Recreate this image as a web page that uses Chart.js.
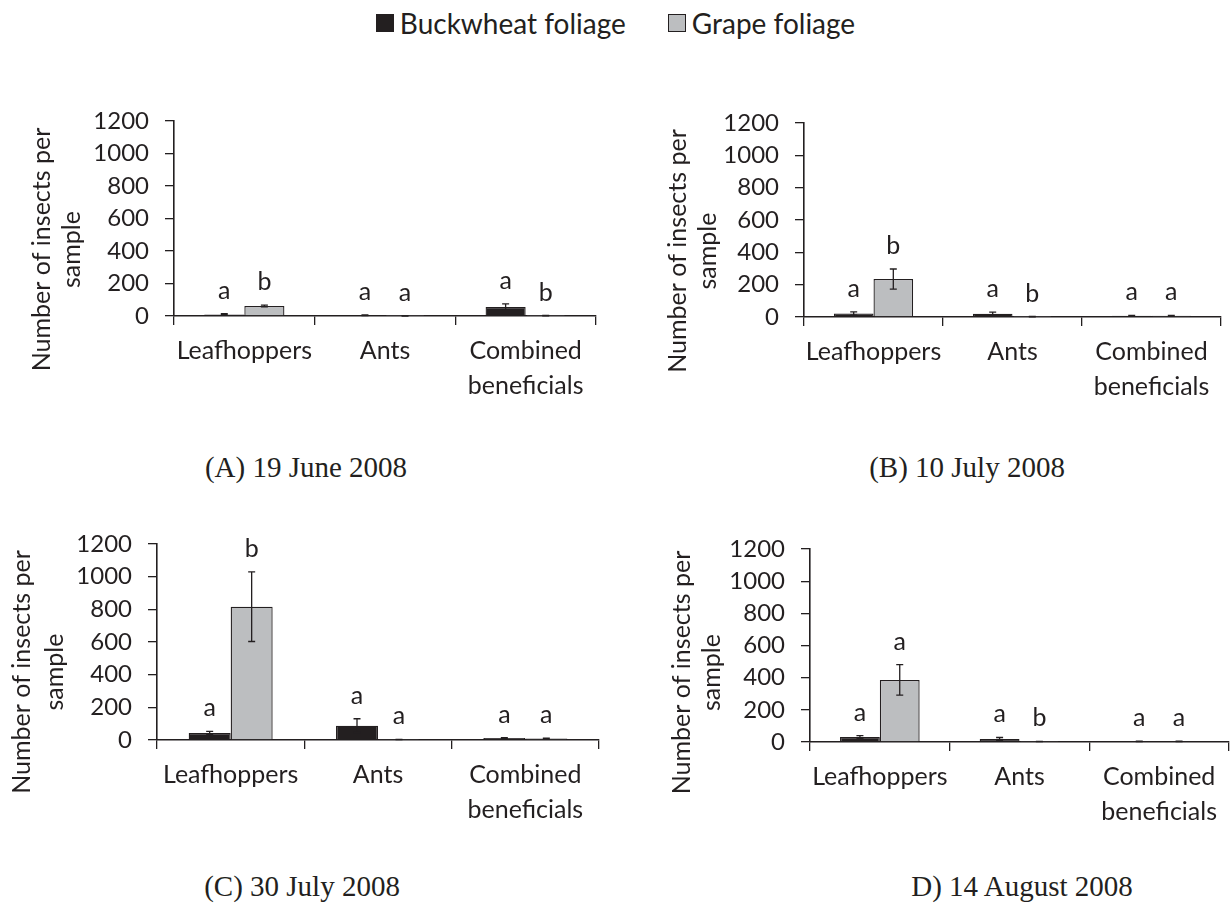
<!DOCTYPE html>
<html>
<head>
<meta charset="utf-8">
<script src="https://cdn.jsdelivr.net/npm/chart.js@4.4.0/dist/chart.umd.min.js"></script>
<style>
  body { margin: 0; background: #fff; width: 1231px; height: 909px; position: relative; overflow: hidden; font-family: Lato, sans-serif; color: #231f20; }
  canvas { position: absolute; }
  .legend { position: absolute; left: 0; top: 0; width: 1231px; height: 46px; display: flex; justify-content: center; align-items: center; font-size: 28px; }
  .legend span.item { display: flex; align-items: center; margin: 0 21px; }
  .sw { display: inline-block; width: 16px; height: 16px; border: 1px solid #231f20; margin-right: 6px; }
  .cap { position: absolute; font-family: "Liberation Serif", serif; font-size: 29px; line-height: 34px; transform: translateX(-50%); white-space: nowrap; }
</style>
</head>
<body>
<div class="legend" id="legend"></div>
<canvas id="chartA"></canvas>
<canvas id="chartB"></canvas>
<canvas id="chartC"></canvas>
<canvas id="chartD"></canvas>
<script>
// categories and series
const categories = ['Leafhoppers', 'Ants', ['Combined', 'beneficials']];
const seriesNames = ['Buckwheat foliage', 'Grape foliage'];
const seriesColors = ['#231f20', '#bcbec0'];
const yTitleLines = ['Number of insects per', 'sample'];
const yMax = 1200;
const yStep = 200;

// (A) 19 June 2008
const buckA = [10, 5, 55];
const buckErrA = [4, 2, 20];
const grapeA = [62, 1, 2];
const grapeErrA = [5, 1, 1];
const lettersBuckA = ['a', 'a', 'a'];
const lettersGrapeA = ['b', 'a', 'b'];

// (B) 10 July 2008
const buckB = [22, 20, 7];
const buckErrB = [10, 10, 3];
const grapeB = [235, 2, 7];
const grapeErrB = [62, 1, 3];
const lettersBuckB = ['a', 'a', 'a'];
const lettersGrapeB = ['b', 'b', 'a'];

// (C) 30 July 2008
const buckC = [43, 88, 12];
const buckErrC = [10, 42, 3];
const grapeC = [816, 3, 9];
const grapeErrC = [213, 1, 2];
const lettersBuckC = ['a', 'a', 'a'];
const lettersGrapeC = ['b', 'a', 'a'];

// D) 14 August 2008
const buckD = [31, 18, 4];
const buckErrD = [9, 10, 2];
const grapeD = [386, 3, 4];
const grapeErrD = [95, 1, 2];
const lettersBuckD = ['a', 'a', 'a'];
const lettersGrapeD = ['a', 'b', 'a'];

const ink = '#231f20';

// legend
const legend = document.getElementById('legend');
seriesNames.forEach((name, i) => {
  legend.insertAdjacentHTML('beforeend',
    '<span class="item"><span class="sw" style="background:' + seriesColors[i] + '"></span>' + name + '</span>');
});

// error bars + significance letters
const barNotes = {
  id: 'barNotes',
  afterDatasetsDraw(chart) {
    const ctx = chart.ctx, y = chart.scales.y;
    chart.data.datasets.forEach((ds, i) => {
      chart.getDatasetMeta(i).data.forEach((bar, j) => {
        const v = ds.data[j], e = ds.errors[j];
        const top = y.getPixelForValue(v + e);
        const bot = y.getPixelForValue(Math.max(0, v - e));
        ctx.save();
        ctx.strokeStyle = ink;
        ctx.lineWidth = 1.3;
        ctx.beginPath();
        ctx.moveTo(bar.x, top); ctx.lineTo(bar.x, bot);
        ctx.moveTo(bar.x - 3.5, top); ctx.lineTo(bar.x + 3.5, top);
        ctx.moveTo(bar.x - 3.5, bot); ctx.lineTo(bar.x + 3.5, bot);
        ctx.stroke();
        ctx.fillStyle = ink;
        ctx.font = '25px Lato';
        ctx.textAlign = 'center';
        ctx.textBaseline = 'alphabetic';
        ctx.fillText(ds.letters[j], bar.x, top - 15);
        ctx.restore();
      });
    });
  }
};

// two-line rotated y title
const sideTitle = {
  id: 'sideTitle',
  afterDraw(chart, args, opts) {
    const a = chart.chartArea, ctx = chart.ctx;
    const cy = (a.top + a.bottom) / 2 + opts.dy;
    ctx.save();
    ctx.fillStyle = ink;
    ctx.font = '25px Lato';
    ctx.textAlign = 'center';
    ctx.textBaseline = 'middle';
    yTitleLines.forEach((t, k) => {
      ctx.save();
      ctx.translate(opts.xs[k], cy);
      ctx.rotate(-Math.PI / 2);
      ctx.fillText(t, 0, 0);
      ctx.restore();
    });
    ctx.restore();
  }
};

function makePanel(p) {
  const cv = document.getElementById(p.id);
  cv.width = p.w; cv.height = p.h;
  cv.style.left = p.left + 'px'; cv.style.top = p.top + 'px';
  const plotL = p.plot[0] - p.left, plotT = p.plot[1] - p.top;
  const plotR = p.plot[2] - p.left, plotB = p.plot[3] - p.top;

  new Chart(cv.getContext('2d'), {
    type: 'bar',
    data: {
      labels: categories,
      datasets: [
        { label: seriesNames[0], data: p.buck, errors: p.buckErr, letters: p.lBuck,
          backgroundColor: seriesColors[0], borderColor: ink, borderWidth: 1.3 },
        { label: seriesNames[1], data: p.grape, errors: p.grapeErr, letters: p.lGrape,
          backgroundColor: seriesColors[1], borderColor: ink, borderWidth: 1.3 }
      ]
    },
    options: {
      responsive: false,
      animation: false,
      devicePixelRatio: 1,
      layout: { padding: { top: plotT, right: p.w - plotR, bottom: 0, left: 0 } },
      datasets: { bar: { categoryPercentage: 0.57, barPercentage: 1 } },
      plugins: {
        legend: { display: false },
        tooltip: { enabled: false },
        sideTitle: { xs: p.titleX, dy: p.titleDy }
      },
      scales: {
        x: {
          afterFit: s => { s.height = p.h - plotB; s.paddingLeft = 0; s.paddingRight = 0; },
          grid: { offset: true, drawOnChartArea: false, drawTicks: true, tickLength: 9, color: ink, lineWidth: 1.3 },
          border: { color: ink, width: 1.6 },
          ticks: { color: ink, padding: 8, font: { family: 'Lato', size: 25, lineHeight: 1.4 }, maxRotation: 0, autoSkip: false }
        },
        y: {
          min: 0, max: yMax,
          afterFit: s => { s.width = plotL; s.paddingTop = 0; s.paddingBottom = 0; },
          grid: { drawOnChartArea: false, drawTicks: true, tickLength: 9, color: ink, lineWidth: 1.3 },
          border: { color: ink, width: 1.6 },
          ticks: { stepSize: yStep, autoSkip: false, color: ink, padding: 16, font: { family: 'Lato', size: 24 },
                   callback: v => String(v) }
        }
      }
    },
    plugins: [barNotes, sideTitle]
  });

  document.body.insertAdjacentHTML('beforeend',
    '<div class="cap" style="left:' + p.capX + 'px;top:' + (p.capY - 17) + 'px">' + p.caption + '</div>');
}

makePanel({ id: 'chartA', left: 0, top: 100, w: 620, h: 320, plot: [174, 121, 596, 316], titleX: [42, 72], titleDy: 31,
  buck: buckA, buckErr: buckErrA, grape: grapeA, grapeErr: grapeErrA, lBuck: lettersBuckA, lGrape: lettersGrapeA,
  caption: '(A) 19 June 2008', capX: 306, capY: 467 });
makePanel({ id: 'chartB', left: 620, top: 100, w: 611, h: 320, plot: [804, 123, 1221, 317], titleX: [58, 88], titleDy: 31,
  buck: buckB, buckErr: buckErrB, grape: grapeB, grapeErr: grapeErrB, lBuck: lettersBuckB, lGrape: lettersGrapeB,
  caption: '(B) 10 July 2008', capX: 967, capY: 467 });
makePanel({ id: 'chartC', left: 0, top: 520, w: 620, h: 320, plot: [157, 544, 599, 740], titleX: [22, 55], titleDy: 30,
  buck: buckC, buckErr: buckErrC, grape: grapeC, grapeErr: grapeErrC, lBuck: lettersBuckC, lGrape: lettersGrapeC,
  caption: '(C) 30 July 2008', capX: 302, capY: 886 });
makePanel({ id: 'chartD', left: 620, top: 520, w: 611, h: 320, plot: [810, 549, 1229, 742], titleX: [62, 92], titleDy: 27,
  buck: buckD, buckErr: buckErrD, grape: grapeD, grapeErr: grapeErrD, lBuck: lettersBuckD, lGrape: lettersGrapeD,
  caption: 'D) 14 August 2008', capX: 1022, capY: 886 });
</script>
</body>
</html>
